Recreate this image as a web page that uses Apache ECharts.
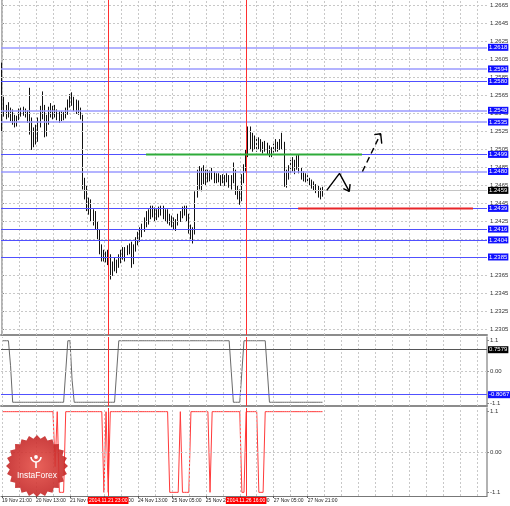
<!DOCTYPE html>
<html><head><meta charset="utf-8">
<script src="https://cdn.jsdelivr.net/npm/echarts@6/dist/echarts.min.js"></script>
<style>html,body{margin:0;padding:0;background:#fff}#c{width:510px;height:506px}</style>
</head><body><div id="c"></div>
<script>
// H1 candles [open, close, low, high], bar 0 = 19 Nov 21:00
const candles = [
[1.2549,1.2560,1.2524,1.2601],[1.2560,1.2547,1.2541,1.2563],[1.2547,1.2551,1.2538,1.2554],[1.2551,1.2544,1.2540,1.2557],
[1.2544,1.2541,1.2536,1.2551],[1.2541,1.2538,1.2532,1.2549],[1.2538,1.2533,1.2529,1.2543],[1.2533,1.2540,1.2530,1.2542],
[1.2540,1.2547,1.2537,1.2550],[1.2547,1.2548,1.2541,1.2551],[1.2548,1.2546,1.2542,1.2552],[1.2546,1.2543,1.2540,1.2550],
[1.2543,1.2539,1.2534,1.2548],[1.2539,1.2529,1.2521,1.2573],[1.2529,1.2516,1.2504,1.2540],[1.2516,1.2521,1.2507,1.2529],
[1.2521,1.2518,1.2510,1.2532],[1.2518,1.2536,1.2513,1.2540],[1.2536,1.2547,1.2529,1.2553],[1.2547,1.2543,1.2538,1.2569],
[1.2543,1.2529,1.2518,1.2554],[1.2529,1.2538,1.2519,1.2543],[1.2538,1.2549,1.2532,1.2552],[1.2549,1.2544,1.2540,1.2556],
[1.2544,1.2550,1.2538,1.2553],[1.2550,1.2543,1.2540,1.2554],[1.2543,1.2540,1.2537,1.2549],[1.2540,1.2542,1.2534,1.2547],
[1.2542,1.2539,1.2536,1.2547],[1.2539,1.2543,1.2537,1.2546],[1.2543,1.2547,1.2539,1.2551],[1.2547,1.2556,1.2543,1.2560],
[1.2556,1.2561,1.2551,1.2566],[1.2561,1.2557,1.2553,1.2568],[1.2557,1.2551,1.2547,1.2563],[1.2551,1.2554,1.2544,1.2560],
[1.2554,1.2547,1.2543,1.2559],[1.2547,1.2540,1.2538,1.2551],[1.2540,1.2463,1.2460,1.2543],[1.2463,1.2454,1.2449,1.2473],
[1.2454,1.2440,1.2436,1.2464],[1.2440,1.2446,1.2432,1.2451],[1.2446,1.2431,1.2424,1.2449],[1.2431,1.2427,1.2420,1.2438],
[1.2427,1.2421,1.2416,1.2436],[1.2421,1.2410,1.2404,1.2424],[1.2410,1.2391,1.2388,1.2416],[1.2391,1.2387,1.2380,1.2399],
[1.2387,1.2384,1.2380,1.2393],[1.2384,1.2388,1.2379,1.2391],[1.2388,1.2380,1.2376,1.2393],[1.2380,1.2369,1.2360,1.2388],
[1.2369,1.2376,1.2364,1.2380],[1.2376,1.2373,1.2369,1.2384],[1.2373,1.2380,1.2367,1.2382],[1.2380,1.2384,1.2373,1.2388],
[1.2384,1.2389,1.2378,1.2393],[1.2389,1.2387,1.2382,1.2396],[1.2387,1.2391,1.2380,1.2396],[1.2391,1.2393,1.2387,1.2398],
[1.2393,1.2396,1.2388,1.2400],[1.2396,1.2382,1.2373,1.2402],[1.2382,1.2396,1.2377,1.2399],[1.2396,1.2402,1.2391,1.2407],
[1.2402,1.2409,1.2398,1.2413],[1.2409,1.2413,1.2402,1.2418],[1.2413,1.2418,1.2407,1.2422],[1.2418,1.2424,1.2413,1.2429],
[1.2424,1.2429,1.2418,1.2436],[1.2429,1.2433,1.2421,1.2438],[1.2433,1.2438,1.2427,1.2442],[1.2438,1.2433,1.2429,1.2442],
[1.2433,1.2429,1.2424,1.2440],[1.2429,1.2436,1.2426,1.2438],[1.2436,1.2438,1.2429,1.2441],[1.2438,1.2436,1.2431,1.2442],
[1.2436,1.2431,1.2427,1.2442],[1.2431,1.2433,1.2424,1.2438],[1.2433,1.2427,1.2422,1.2438],[1.2427,1.2424,1.2420,1.2433],
[1.2424,1.2421,1.2418,1.2431],[1.2421,1.2419,1.2416,1.2429],[1.2419,1.2424,1.2414,1.2427],[1.2424,1.2429,1.2420,1.2433],
[1.2429,1.2433,1.2424,1.2436],[1.2433,1.2438,1.2428,1.2441],[1.2438,1.2436,1.2431,1.2442],[1.2436,1.2429,1.2424,1.2442],
[1.2429,1.2416,1.2411,1.2433],[1.2416,1.2409,1.2404,1.2421],[1.2409,1.2413,1.2400,1.2418],[1.2413,1.2454,1.2410,1.2458],
[1.2454,1.2476,1.2451,1.2482],[1.2476,1.2466,1.2460,1.2486],[1.2466,1.2480,1.2458,1.2484],[1.2480,1.2471,1.2466,1.2487],
[1.2471,1.2477,1.2464,1.2482],[1.2477,1.2473,1.2468,1.2482],[1.2473,1.2478,1.2469,1.2481],[1.2478,1.2476,1.2471,1.2484],
[1.2476,1.2471,1.2467,1.2480],[1.2471,1.2473,1.2467,1.2478],[1.2473,1.2470,1.2468,1.2478],[1.2470,1.2472,1.2464,1.2476],
[1.2472,1.2469,1.2467,1.2477],[1.2469,1.2473,1.2464,1.2476],[1.2473,1.2471,1.2468,1.2478],[1.2471,1.2467,1.2462,1.2476],
[1.2467,1.2471,1.2460,1.2476],[1.2471,1.2476,1.2467,1.2490],[1.2476,1.2458,1.2454,1.2482],[1.2458,1.2453,1.2449,1.2464],
[1.2453,1.2451,1.2443,1.2460],[1.2451,1.2471,1.2447,1.2477],[1.2471,1.2482,1.2467,1.2488],[1.2482,1.2499,1.2479,1.2504],
[1.2499,1.2521,1.2496,1.2530],[1.2521,1.2510,1.2504,1.2530],[1.2510,1.2516,1.2502,1.2523],[1.2516,1.2508,1.2504,1.2520],
[1.2508,1.2513,1.2502,1.2518],[1.2513,1.2509,1.2504,1.2518],[1.2509,1.2507,1.2502,1.2516],[1.2507,1.2510,1.2500,1.2513],
[1.2510,1.2504,1.2502,1.2514],[1.2504,1.2502,1.2499,1.2512],[1.2502,1.2499,1.2496,1.2509],[1.2499,1.2504,1.2496,1.2507],
[1.2504,1.2508,1.2501,1.2511],[1.2508,1.2506,1.2502,1.2516],[1.2506,1.2510,1.2502,1.2513],[1.2510,1.2507,1.2504,1.2516],
[1.2507,1.2509,1.2504,1.2523],[1.2509,1.2471,1.2463,1.2513],[1.2471,1.2477,1.2462,1.2482],[1.2477,1.2482,1.2471,1.2487],
[1.2482,1.2489,1.2477,1.2493],[1.2489,1.2484,1.2480,1.2496],[1.2484,1.2490,1.2477,1.2493],[1.2490,1.2487,1.2482,1.2498],
[1.2487,1.2480,1.2478,1.2499],[1.2480,1.2476,1.2471,1.2484],[1.2476,1.2473,1.2469,1.2480],[1.2473,1.2471,1.2468,1.2478],
[1.2471,1.2469,1.2467,1.2476],[1.2469,1.2467,1.2464,1.2473],[1.2467,1.2464,1.2461,1.2471],[1.2464,1.2461,1.2459,1.2469],
[1.2461,1.2459,1.2456,1.2466],[1.2459,1.2457,1.2451,1.2464],[1.2457,1.2454,1.2449,1.2462],[1.2454,1.2459,1.2452,1.2463]
];
// indicator 1 (gray step line)
const ind1 = [
1.07,1.07,1.07,1.07,0.2,
-1.07,-1.07,-1.07,-1.07,-1.07,-1.07,-1.07,-1.07,-1.07,-1.07,-1.07,-1.07,-1.07,-1.07,-1.07,-1.07,-1.07,-1.07,-1.07,-1.07,-1.07,-1.07,-1.07,-1.07,-1.07,
0,1.07,1.07,-0.3,
-1.07,-1.07,-1.07,-1.07,-1.07,-1.07,-1.07,-1.07,-1.07,-1.07,-1.07,-1.07,-1.07,-1.07,-1.07,-1.07,-1.07,-1.07,-1.07,-1.07,
0,
1.07,1.07,1.07,1.07,1.07,1.07,1.07,1.07,1.07,1.07,1.07,1.07,1.07,1.07,1.07,1.07,1.07,1.07,1.07,1.07,1.07,1.07,1.07,1.07,1.07,1.07,
1.07,1.07,1.07,1.07,1.07,1.07,1.07,1.07,1.07,1.07,1.07,1.07,1.07,1.07,1.07,1.07,1.07,1.07,1.07,1.07,1.07,1.07,1.07,1.07,1.07,1.07,1.07,
0,
-1.07,-1.07,-1.07,-1.07,
0,
1.07,1.07,1.07,1.07,1.07,1.07,1.07,1.07,1.07,1.07,1.07,
0,
-1.07,-1.07,-1.07,-1.07,-1.07,-1.07,-1.07,-1.07,-1.07,-1.07,-1.07,-1.07,-1.07,-1.07,-1.07,-1.07,-1.07,-1.07,-1.07,-1.07,-1.07,-1.07,-1.07,-1.07,-1.07,-1.07
];
// indicator 2 (red step line)
const ind2 = [
1.1,1.1,1.1,1.1,1.1,1.1,1.1,1.1,1.1,1.1,1.1,1.1,1.1,1.1,1.1,1.1,1.1,1.1,1.1,1.1,1.1,1.1,1.1,1.1,1.1,
-0.4,1.1,-1.1,-1.1,-1.1,
1.1,1.1,1.1,1.1,1.1,1.1,1.1,1.1,1.1,1.1,1.1,1.1,1.1,1.1,1.1,1.1,1.1,1.1,
-1.1,1.1,-1.1,
1.1,1.1,1.1,1.1,1.1,1.1,1.1,1.1,1.1,1.1,1.1,1.1,1.1,1.1,1.1,1.1,1.1,1.1,1.1,1.1,1.1,1.1,1.1,1.1,1.1,1.1,1.1,1.1,
-1.1,-1.1,-1.1,-1.1,-1.1,1.1,-1.1,-1.1,-1.1,-1.1,
1.1,1.1,1.1,1.1,1.1,1.1,1.1,1.1,1.1,
-1.1,
1.1,1.1,1.1,1.1,1.1,1.1,1.1,1.1,1.1,1.1,1.1,1.1,1.1,1.1,
-1.1,-1.1,
1.1,1.1,1.1,1.1,1.1,1.1,
-1.1,-1.1,-1.1,
1.1,1.1,1.1,1.1,1.1,1.1,1.1,1.1,1.1,1.1,1.1,1.1,1.1,1.1,1.1,1.1,1.1,1.1,1.1,1.1,1.1,1.1,1.1,1.1,1.1,1.1,1.1,1.1
];
const priceTicks = [1.2305,1.2325,1.2345,1.2365,1.2385,1.2405,1.2425,1.2445,1.2465,1.2485,1.2505,1.2525,1.2545,1.2565,1.2585,1.2605,1.2625,1.2645,1.2665];
const levelsLight = [1.2618,1.2594,1.2548,1.2535,1.2480];
const levelsDark = [1.2580,1.2499,1.2439,1.2416,1.2404,1.2385];
const currentPrice = 1.2459;
const indTicks = [-1.1,0,1.1];
const ind1LevelBlack = 0.7579;
const ind1LevelBlue = -0.8067;
const xTickIndex = [0,16,32,48,64,80,96,112,128,144];
const xTickLabels = ['19 Nov 21:00','20 Nov 13:00','21 Nov 05:00','21 Nov 21:00','24 Nov 13:00','25 Nov 05:00','25 Nov 21:00','26 Nov 13:00','27 Nov 05:00','27 Nov 21:00'];
const markerIndex = [50,115];
const markerLabels = ['2014.11.21 23:00','2014.11.26 16:00'];
// annotations in (bar index, price)
const greenSeg = [[67.8,1.2499],[169.6,1.2499]];
const redSeg = [[139.5,1.2439],[221.9,1.2439]];
const zigzag = [[153,1.2459],[159,1.2478],[163.6,1.2458]];
const zigzagHead = [[160.8,1.2461],[163.6,1.2458],[164,1.2466]];
const dashArrow = [[169.8,1.2480],[178.4,1.2522]];
const dashHead = [[175.4,1.2521],[178.4,1.2522],[178.9,1.2511]];
const exclam = [[223.8,1.2448]];

const N = 229;
const cats = Array.from({length:N}, (_, i) => i);
const gridIdx = []; for (let i = 0; i < N; i += 8) gridIdx.push(i);
const FONT = 'Liberation Sans';
const GRIDC = {color:'#c8c8c8', type:[2,2], width:1};
const BLUEBOX = '#1010ff';

const chart = echarts.init(document.getElementById('c'), null, {renderer:'canvas', width:510, height:506});

function vGrid() { return gridIdx.map(i => ({xAxis:i, lineStyle:GRIDC})); }
function boxLabel(text, bg) {
  return {show:true, position:'end', distance:1, formatter:text, color:'#fff', backgroundColor:bg,
          fontSize:6, fontFamily:FONT, padding:[1,1,0,1], lineHeight:6};
}
function redV(withLabel) {
  return markerIndex.map((i, k) => ({xAxis:i, lineStyle:{color:'#ff3030', width:1, type:'solid'},
    label: withLabel ? {show:true, position:'start', distance:1, formatter:markerLabels[k], color:'#fff',
      backgroundColor:'#ff0000', fontSize:5, fontFamily:FONT, padding:[1,1,1,1]} : {show:false}}));
}
const noLbl = {show:false};
const mlBase = {silent:true, symbol:['none','none'], animation:false, label:noLbl, precision:6};

function yAxisCfg(grid, min, max, ticks, fmt) {
  return {type:'value', gridIndex:grid, position:'right', min:min, max:max,
    axisLine:{show:true, lineStyle:{color:'#999', width:1.5}},
    axisTick:{show:true, length:2, customValues:ticks, lineStyle:{color:'#888'}},
    axisLabel:{customValues:ticks, formatter:fmt, fontSize:6, fontFamily:FONT, color:'#333', margin:3},
    splitLine:{show:false}};
}
const indFmt = v => (Math.abs(v) < 1e-9 ? '0.00' : v.toFixed(1));
function xAxisCfg(grid, bottom) {
  return {type:'category', gridIndex:grid, data:cats, boundaryGap:true,
    axisLine:{show:true, onZero:false, lineStyle:{color: bottom ? '#777' : '#8c8c8c', width: bottom ? 1 : 2}},
    axisTick: bottom ? {show:true, alignWithLabel:true, length:2, interval:(idx) => xTickIndex.includes(idx), lineStyle:{color:'#555'}} : {show:false},
    axisLabel: bottom ? {show:true, interval:(idx) => xTickIndex.includes(idx), align:'left', margin:2,
      formatter:(v) => xTickLabels[xTickIndex.indexOf(Number(v))] || '', fontSize:5, fontFamily:FONT, color:'#222'} : {show:false},
    splitLine:{show:false}};
}

// badge star polygon (decoration)
const star = [];
const teeth = 24;
for (let k = 0; k < teeth * 2; k++) {
  const r = k % 2 === 0 ? 31 : 27.5;
  const a = Math.PI * k / teeth;
  star.push([37 + r * Math.cos(a), 466 + r * Math.sin(a)]);
}

const option = {
  animation:false,
  backgroundColor:'#fff',
  grid:[
    {left:1, right:23, top:0, height:335, outerBoundsMode:'none'},
    {left:1, right:23, top:337, height:69, outerBoundsMode:'none'},
    {left:1, right:23, top:408, height:88, outerBoundsMode:'none'}
  ],
  xAxis:[xAxisCfg(0,false), xAxisCfg(1,false), xAxisCfg(2,true),
    {type:'value', gridIndex:0, min:-0.5, max:N-0.5, show:false}],
  yAxis:[
    yAxisCfg(0, 1.22983, 1.26706, priceTicks, v => v.toFixed(4)),
    yAxisCfg(1, -1.2, 1.2, indTicks, indFmt),
    yAxisCfg(2, -1.2, 1.2, indTicks, indFmt)
  ],
  series:[
    {type:'line', xAxisIndex:0, yAxisIndex:0, data:[], z:1,
      markLine:Object.assign({}, mlBase, {data: priceTicks.map(v => ({yAxis:v, lineStyle:GRIDC})).concat(vGrid())})},
    {type:'line', xAxisIndex:0, yAxisIndex:0, data:[], z:2,
      markLine:Object.assign({}, mlBase, {data:
        levelsLight.map(v => ({yAxis:v, lineStyle:{color:'#9a9aff', width:1.6, type:'solid'}, label:boxLabel(v.toFixed(4), BLUEBOX)}))
        .concat(levelsDark.map(v => ({yAxis:v, lineStyle:{color:'#5050ff', width:1, type:'solid'}, label:boxLabel(v.toFixed(4), BLUEBOX)})))
        .concat([{yAxis:currentPrice, lineStyle:{color:'#c4c4c4', width:1, type:'solid'}, label:boxLabel(currentPrice.toFixed(4), '#000')}])
      })},
    {type:'candlestick', xAxisIndex:0, yAxisIndex:0, data:candles, z:3, barWidth:1.2,
      itemStyle:{color:'#ffffff', color0:'#111', borderColor:'#111', borderColor0:'#111', borderWidth:1}},
    {type:'line', xAxisIndex:0, yAxisIndex:0, data:[], z:4,
      markLine:Object.assign({}, mlBase, {data: redV(false)})},
    {type:'line', xAxisIndex:3, yAxisIndex:0, data:greenSeg, z:5, symbol:'none', lineStyle:{color:'#2eab3a', width:2}},
    {type:'line', xAxisIndex:3, yAxisIndex:0, data:redSeg, z:5, symbol:'none', lineStyle:{color:'#e8262a', width:2}},
    {type:'line', xAxisIndex:3, yAxisIndex:0, data:zigzag, z:6, symbol:'none', lineStyle:{color:'#000', width:1.4}},
    {type:'line', xAxisIndex:3, yAxisIndex:0, data:zigzagHead, z:6, symbol:'none', lineStyle:{color:'#000', width:1.4}},
    {type:'line', xAxisIndex:3, yAxisIndex:0, data:dashArrow, z:6, symbol:'none', lineStyle:{color:'#000', width:1.4, type:[6,4]}},
    {type:'line', xAxisIndex:3, yAxisIndex:0, data:dashHead, z:6, symbol:'none', lineStyle:{color:'#000', width:1.4}},
    {type:'scatter', xAxisIndex:3, yAxisIndex:0, data:exclam, z:6, symbolSize:1, itemStyle:{opacity:0},
      label:{show:true, position:'inside', formatter:'!', color:'#ff2020', fontSize:15, fontWeight:'bold', fontFamily:FONT}},
    {type:'line', xAxisIndex:1, yAxisIndex:1, data:[], z:1,
      markLine:Object.assign({}, mlBase, {data: [{yAxis:0, lineStyle:GRIDC}].concat(vGrid())})},
    {type:'line', xAxisIndex:1, yAxisIndex:1, data:[], z:2,
      markLine:Object.assign({}, mlBase, {data:[
        {yAxis:ind1LevelBlack, lineStyle:{color:'#555', width:1, type:'solid'}, label:boxLabel(ind1LevelBlack.toFixed(4), '#000')},
        {yAxis:ind1LevelBlue, lineStyle:{color:'#5050ff', width:1, type:'solid'}, label:boxLabel(ind1LevelBlue.toFixed(4), BLUEBOX)}
      ]})},
    {type:'line', xAxisIndex:1, yAxisIndex:1, data:ind1, z:3, symbol:'none', lineStyle:{color:'#6a6a6a', width:1}},
    {type:'line', xAxisIndex:1, yAxisIndex:1, data:[], z:4,
      markLine:Object.assign({}, mlBase, {data: redV(false)})},
    {type:'line', xAxisIndex:2, yAxisIndex:2, data:[], z:1,
      markLine:Object.assign({}, mlBase, {data: [{yAxis:0, lineStyle:GRIDC}].concat(vGrid())})},
    {type:'line', xAxisIndex:2, yAxisIndex:2, data:ind2, z:3, symbol:'none', lineStyle:{color:'#ff3a3a', width:1}},
    {type:'line', xAxisIndex:2, yAxisIndex:2, data:[], z:4,
      markLine:Object.assign({}, mlBase, {data: redV(true)})}
  ],
  graphic:[
    {type:'polygon', z:100, shape:{points:star},
      style:{fill:new echarts.graphic.RadialGradient(0.5,0.5,0.5,[{offset:0,color:'#e65048'},{offset:1,color:'#c42828'}]), opacity:0.9}},
    {type:'circle', z:101, shape:{cx:36, cy:457, r:1.9}, style:{fill:'#fff'}},
    {type:'arc', z:101, shape:{cx:36, cy:457, r:5, startAngle:0, endAngle:Math.PI, clockwise:true},
      style:{fill:null, stroke:'#fff', lineWidth:1.6}},
    {type:'rect', z:101, shape:{x:35.2, y:462, width:1.6, height:6}, style:{fill:'#fff'}},
    {type:'text', z:101, style:{text:'InstaForex', x:37, y:476, align:'center', verticalAlign:'middle',
      fill:'#fff', font:'8.5px "Liberation Sans"'}}
  ]
};
chart.setOption(option);
</script>
</body></html>
